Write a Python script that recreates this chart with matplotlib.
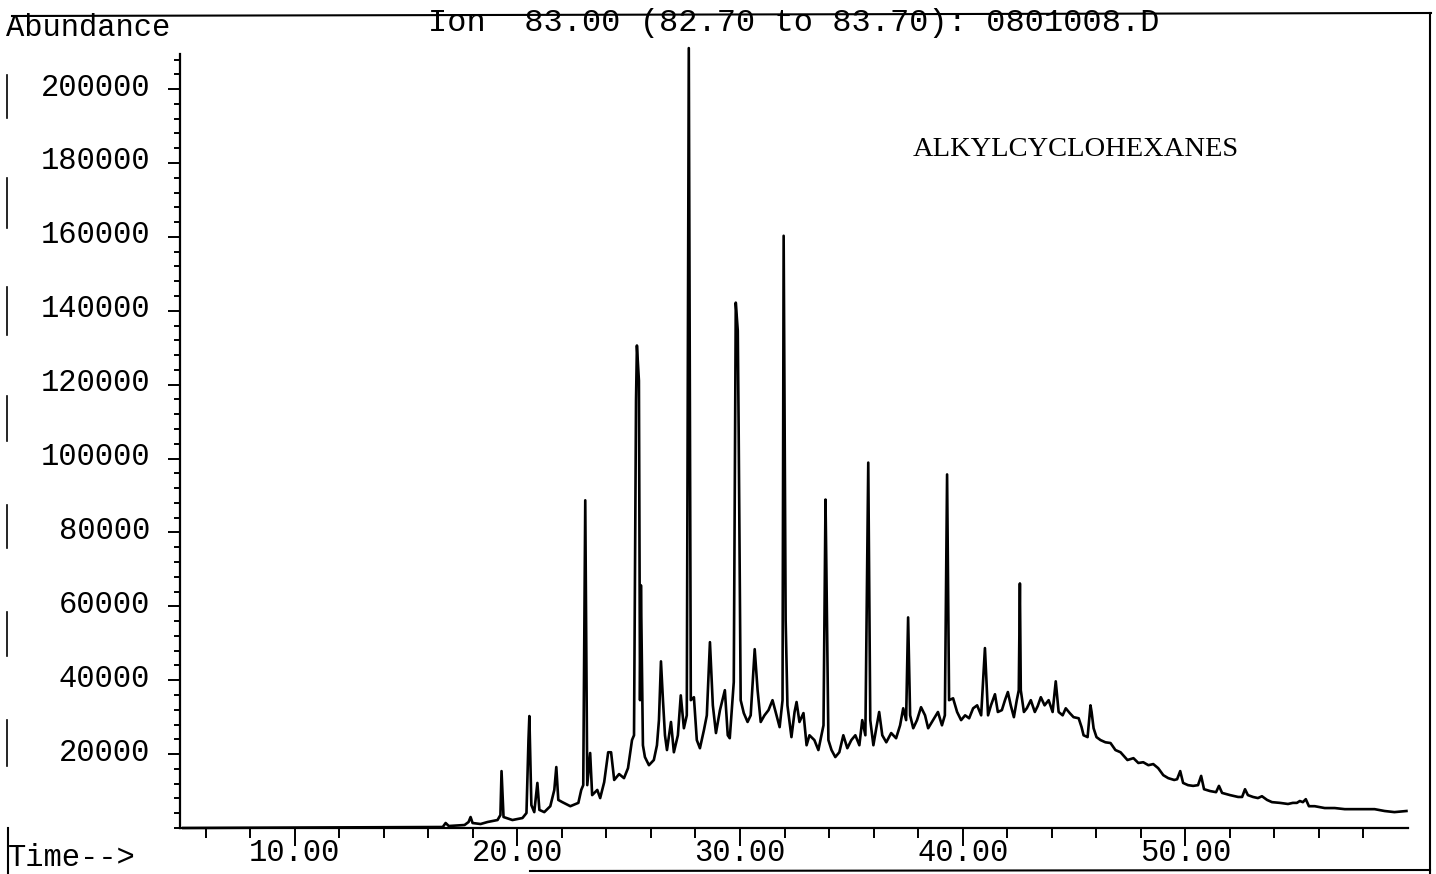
import matplotlib
matplotlib.use("Agg")
import matplotlib.pyplot as plt
from matplotlib.lines import Line2D
from matplotlib.ticker import MultipleLocator, FixedLocator
from matplotlib.transforms import ScaledTranslation

# retention time (min) and abundance
times = [5.00, 16.65, 16.78, 16.92, 17.63, 17.81, 17.90, 17.99, 18.35, 18.66,
         19.11, 19.24, 19.29, 19.38, 19.78, 20.23, 20.41, 20.50, 20.54, 20.63,
         20.76, 20.90, 20.99, 21.21, 21.48, 21.66, 21.75, 21.84, 22.02, 22.38,
         22.74, 22.87, 22.96, 23.05, 23.14, 23.27, 23.36, 23.59, 23.72, 23.90,
         24.08, 24.21, 24.35, 24.57, 24.79, 24.97, 25.15, 25.24, 25.33, 25.37,
         25.46, 25.51, 25.55, 25.64, 25.73, 25.91, 26.13, 26.27, 26.36, 26.45,
         26.54, 26.63, 26.72, 26.90, 27.03, 27.21, 27.34, 27.48, 27.61, 27.70,
         27.79, 27.93, 28.06, 28.20, 28.38, 28.51, 28.65, 28.78, 28.92, 29.10,
         29.32, 29.45, 29.54, 29.72, 29.81, 29.90, 29.94, 30.03, 30.17, 30.34,
         30.48, 30.66, 30.79, 30.93, 31.10, 31.28, 31.46, 31.64, 31.78, 31.91,
         31.96, 32.05, 32.13, 32.31, 32.45, 32.54, 32.67, 32.85, 32.99, 33.12,
         33.34, 33.52, 33.66, 33.75, 33.84, 33.88, 33.97, 34.11, 34.28, 34.46,
         34.64, 34.82, 35.00, 35.18, 35.36, 35.49, 35.63, 35.76, 35.85, 35.99,
         36.12, 36.25, 36.39, 36.57, 36.79, 37.01, 37.19, 37.33, 37.46, 37.55,
         37.64, 37.78, 37.95, 38.13, 38.31, 38.45, 38.67, 38.89, 39.07, 39.20,
         39.30, 39.39, 39.57, 39.75, 39.93, 40.11, 40.29, 40.47, 40.65, 40.83,
         41.00, 41.14, 41.27, 41.45, 41.58, 41.76, 41.90, 42.03, 42.16, 42.30,
         42.43, 42.52, 42.57, 42.61, 42.75, 42.88, 43.06, 43.24, 43.37, 43.51,
         43.68, 43.86, 44.04, 44.18, 44.31, 44.49, 44.63, 44.81, 44.98, 45.21,
         45.34, 45.43, 45.61, 45.74, 45.79, 45.88, 46.01, 46.19, 46.41, 46.64,
         46.86, 47.09, 47.40, 47.67, 47.89, 48.11, 48.34, 48.56, 48.78, 49.01,
         49.23, 49.50, 49.63, 49.77, 49.90, 50.12, 50.35, 50.57, 50.71, 50.84,
         51.11, 51.38, 51.51, 51.65, 52.01, 52.37, 52.55, 52.68, 52.81, 53.04,
         53.26, 53.44, 53.67, 53.89, 54.25, 54.61, 54.83, 55.01, 55.14, 55.28,
         55.41, 55.55, 55.81, 56.26, 56.71, 57.16, 57.60, 58.05, 58.50, 58.95,
         59.39, 59.93]
abundance = [0, 270, 1350, 540, 810, 1620, 2970, 1350, 1080, 1620,
             2160, 3510, 15400, 2970, 2160, 2700, 4050, 23800, 30300, 6200,
             4300, 12200, 4900, 4300, 5900, 10300, 16500, 7600, 7000, 5900,
             6800, 10300, 11600, 88700, 11600, 20300, 8900, 10300, 8100, 12400,
             20500, 20500, 13000, 14600, 13500, 16200, 23800, 25100, 115700, 130600,
             121100, 34600, 65700, 22400, 19200, 17000, 18400, 22400, 29200, 45100,
             34600, 25100, 21100, 28700, 20500, 25100, 35900, 27000, 30500, 211100,
             34600, 35400, 23800, 21600, 26500, 30500, 50300, 33200, 25700, 31900,
             37300, 25100, 24300, 39500, 142200, 134600, 107600, 34600, 31100, 28700,
             30500, 48400, 37300, 28700, 30500, 31900, 34600, 30500, 27300, 34600,
             160300, 56200, 33200, 24600, 31400, 34100, 28700, 31100, 22400, 25100,
             23800, 21100, 25100, 27800, 88900, 69700, 23800, 21100, 19200, 20500,
             25100, 21600, 23800, 25100, 22400, 29200, 25100, 98900, 29200, 22400,
             27000, 31400, 25100, 23200, 25700, 24300, 27800, 32400, 29200, 57000,
             30500, 27000, 29200, 32700, 30500, 27000, 29200, 31400, 27800, 30500,
             95700, 34600, 35100, 31400, 29200, 30500, 29700, 32400, 33200, 30500,
             48700, 30500, 33200, 36200, 31400, 31900, 34600, 36800, 33200, 30000,
             34600, 37300, 66200, 37300, 31400, 32400, 34600, 31400, 33000, 35400,
             33200, 34600, 31400, 39700, 31400, 30500, 32400, 31100, 30000, 29700,
             27300, 25100, 24600, 33200, 31400, 27000, 24600, 23800, 23200, 23000,
             21100, 20500, 18400, 18900, 17600, 17800, 17000, 17300, 16200, 14300,
             13500, 13000, 13200, 15400, 12200, 11600, 11400, 11600, 14100, 10500,
             10000, 9700, 11400, 9500, 8900, 8400, 8400, 10500, 8900, 8400,
             8100, 8600, 7600, 7000, 6800, 6500, 6800, 6800, 7300, 7000,
             7800, 5900, 5900, 5400, 5400, 5100, 5100, 5100, 5100, 4600,
             4300, 4600]

x_major = [10, 20, 30, 40, 50]
x_labels = ["10.00", "20.00", "30.00", "40.00", "50.00"]
y_major = [20000, 40000, 60000, 80000, 100000, 120000, 140000, 160000, 180000, 200000]
y_labels = [str(v) for v in y_major]

title = "Ion  83.00 (82.70 to 83.70): 0801008.D"
annot = "ALKYLCYCLOHEXANES"

W, H = 1436, 874
mono = "Liberation Mono"

fig = plt.figure(figsize=(W / 100, H / 100), dpi=100)
ax = fig.add_axes([180 / W, 1 - 828 / H, (1408 - 180) / W, (828 - 54) / H])

ax.plot(times, abundance, color="black", linewidth=1.9, clip_on=False)

ax.set_xlim(4.85, 60)
ax.set_ylim(0, 209500)

for s in ["top", "right"]:
    ax.spines[s].set_visible(False)
for s in ["left", "bottom"]:
    ax.spines[s].set_linewidth(1.6)

ax.xaxis.set_major_locator(FixedLocator(x_major))
ax.set_xticklabels(x_labels)
ax.xaxis.set_minor_locator(FixedLocator([v for v in range(6, 60, 2) if v % 10]))
ax.yaxis.set_major_locator(FixedLocator(y_major))
ax.set_yticklabels(y_labels)
ax.yaxis.set_minor_locator(MultipleLocator(4000))

ax.tick_params(axis="x", which="major", direction="out", length=13, width=1.4, pad=-6,
               labelsize=22, labelfontfamily=mono)
ax.tick_params(axis="x", which="minor", direction="out", length=7, width=1.4)
ax.tick_params(axis="y", which="major", direction="out", length=9, width=1.4, pad=12.5,
               labelsize=22, labelfontfamily=mono)
ax.tick_params(axis="y", which="minor", direction="out", length=4, width=1.4)

# y labels sit a little above their ticks in the printout
for lab in ax.get_yticklabels():
    lab.set_transform(lab.get_transform() + ScaledTranslation(0, 5 / 100, fig.dpi_scale_trans))

ax.text(0.597, 0.876, annot, transform=ax.transAxes, fontsize=20.5,
        family="Liberation Serif", va="center", ha="left")

fig.text(428 / W, 1 - 23 / H, title, fontsize=23, family=mono, va="center", ha="left")
fig.text(6 / W, 1 - 28 / H, "Abundance", fontsize=22, family=mono, va="center", ha="left")
fig.text(8 / W, 1 - 858 / H, "Time-->", fontsize=22, family=mono, va="center", ha="left")


def px_line(x0, y0, x1, y1, lw=1.5):
    fig.add_artist(Line2D([x0 / W, x1 / W], [1 - y0 / H, 1 - y1 / H],
                          transform=fig.transFigure, color="black", linewidth=lw))


# page frame from the printout
px_line(12, 16, 1431, 13)
px_line(1430, 13, 1430, 874)
px_line(530, 871, 1430, 870)
px_line(8, 828, 8, 874)
for y0, y1 in [(75, 118), (178, 228), (287, 335), (396, 441),
               (505, 548), (612, 656), (720, 766)]:
    px_line(7, y0, 7, y1, lw=1.2)

fig.savefig("out.png", dpi=100)
